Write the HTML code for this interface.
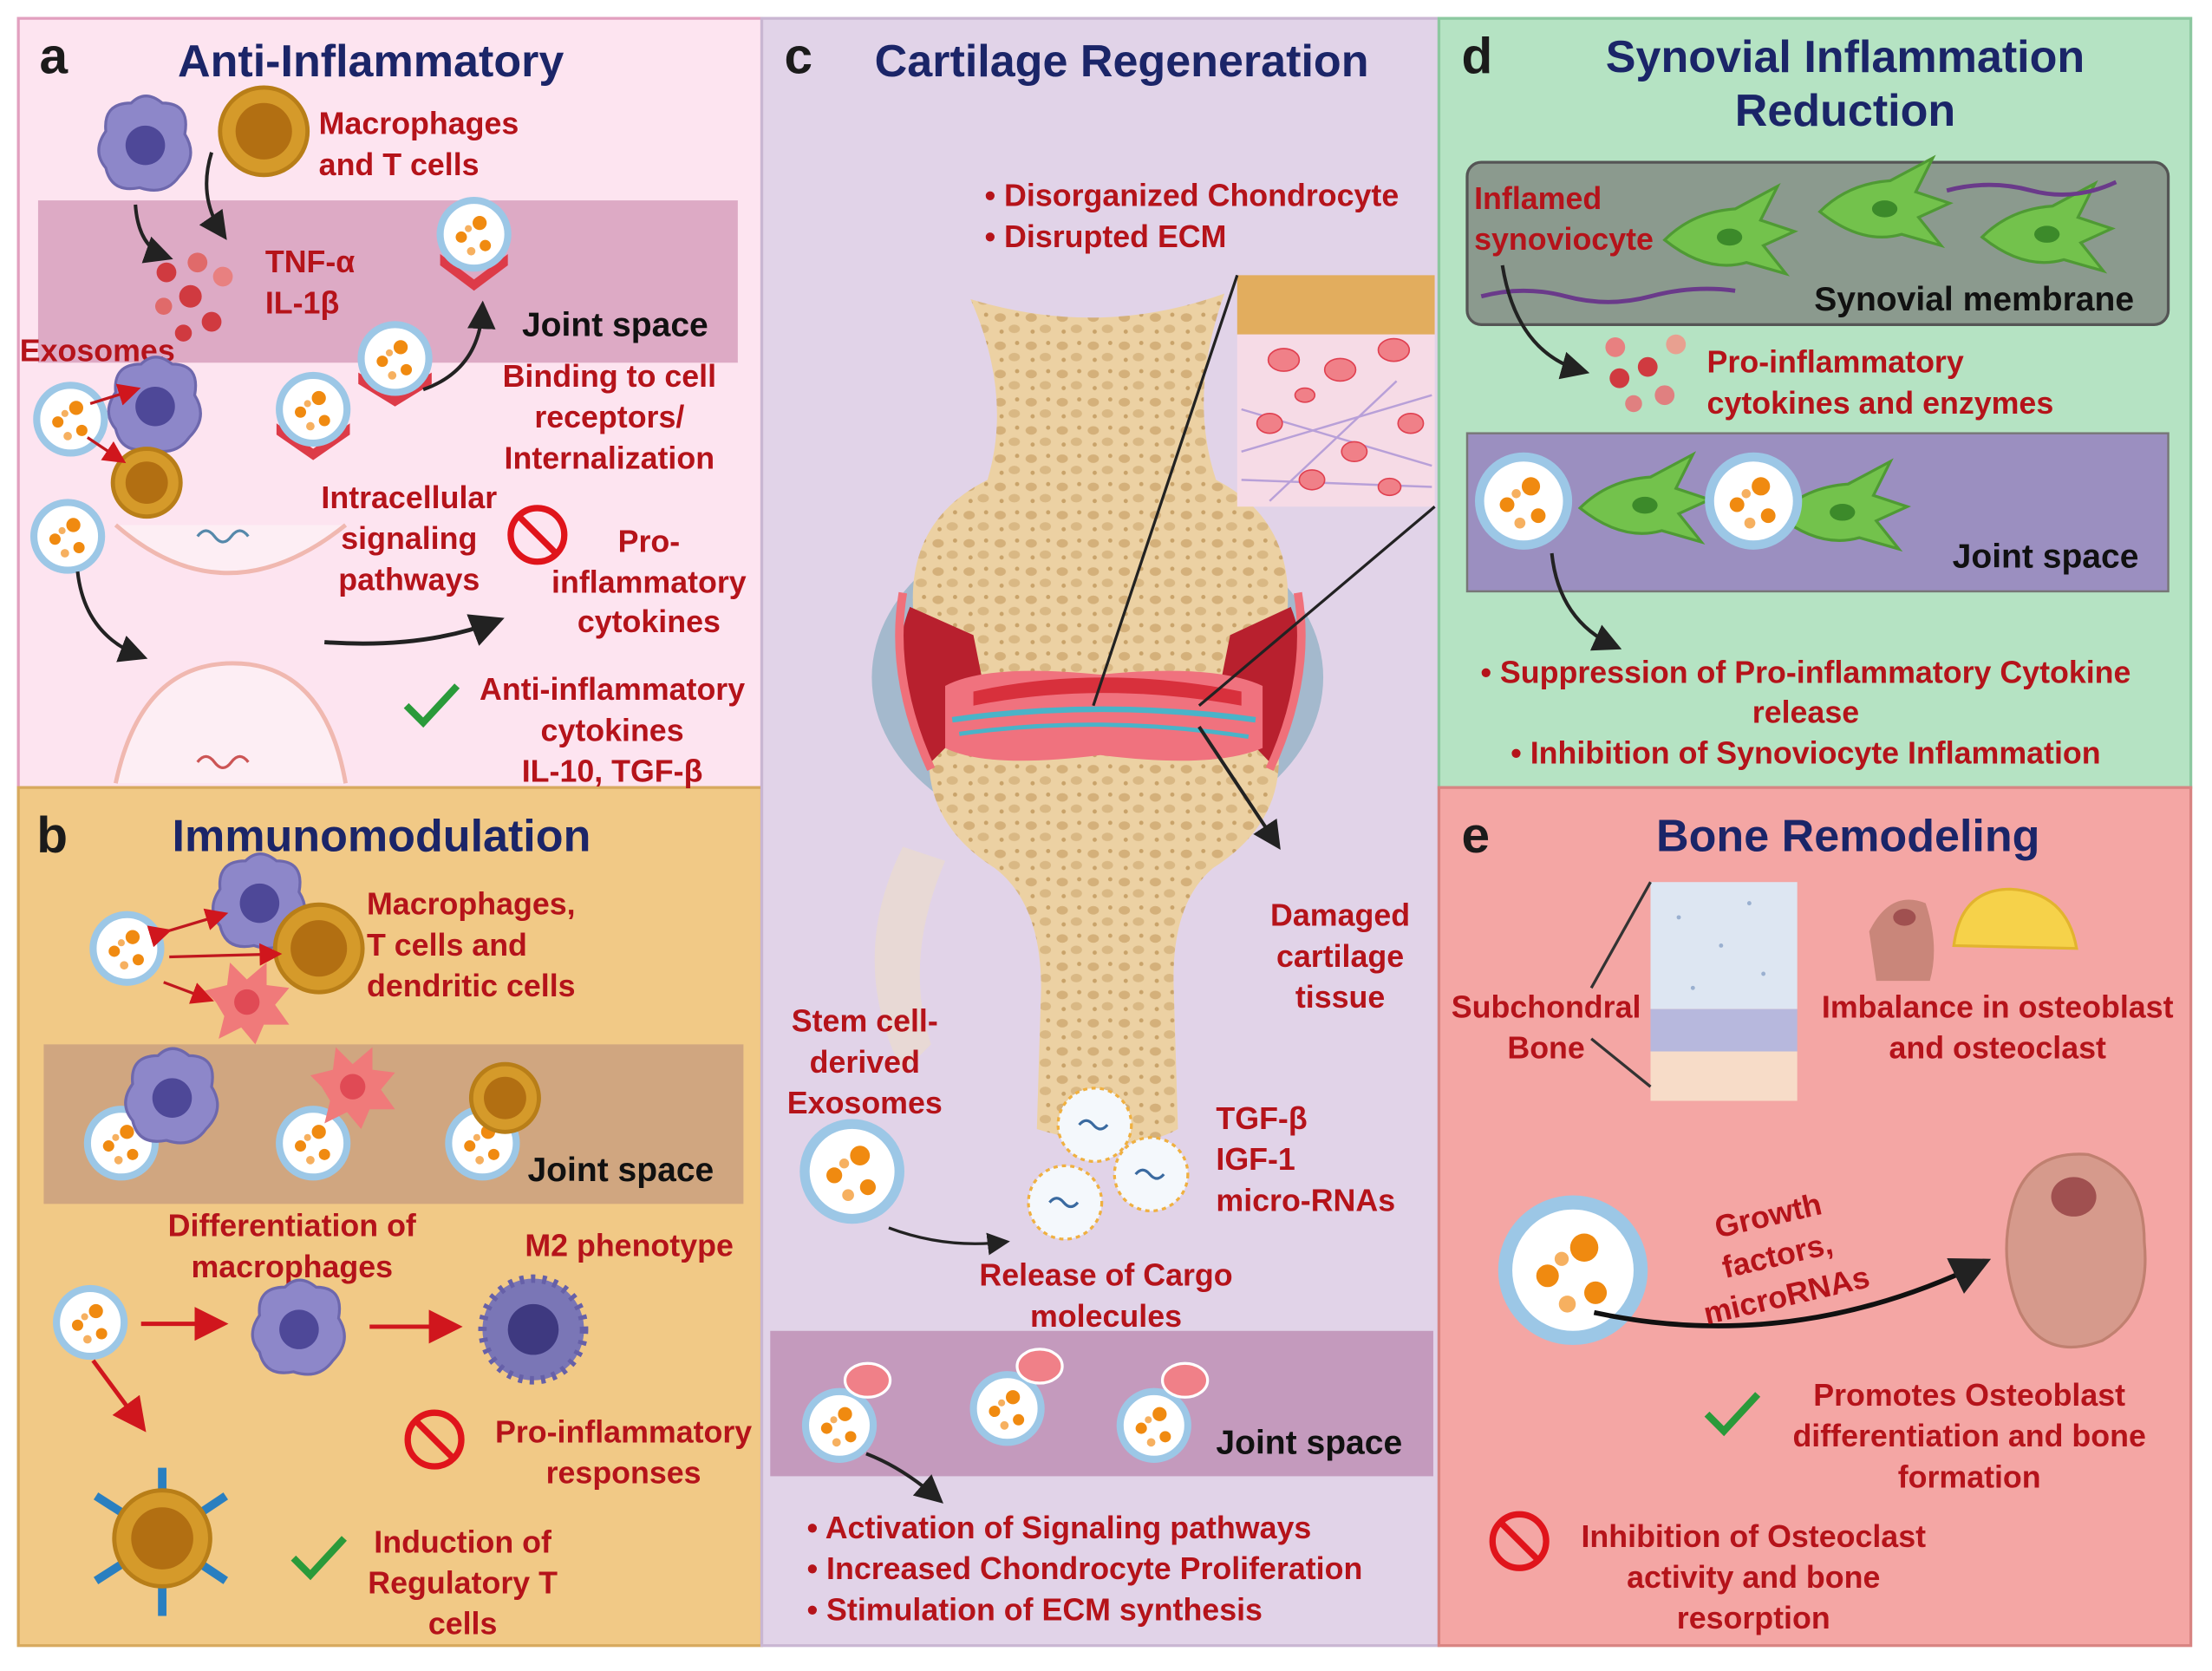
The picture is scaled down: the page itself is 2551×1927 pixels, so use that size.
<!DOCTYPE html>
<html><head><meta charset="utf-8"><style>
html,body{margin:0;padding:0;background:#fff;}
svg{display:block}
text{font-family:"Liberation Sans",sans-serif;font-weight:bold;}
.t{fill:#1b2568;font-size:32px}
.r{fill:#b5131a;font-size:22px}
.k{fill:#111;font-size:24px}
.L{fill:#1b1b1b;font-size:36px}
</style></head><body>
<svg width="2551" height="1927" viewBox="0 0 1568 1184" preserveAspectRatio="none" xmlns="http://www.w3.org/2000/svg">
<defs>
<marker id="ab" markerWidth="8" markerHeight="8" refX="6" refY="4" orient="auto"><path d="M0,0 L8,4 L0,8 z" fill="#222"/></marker>
<marker id="ar" markerWidth="8" markerHeight="8" refX="6" refY="4" orient="auto"><path d="M0,0 L8,4 L0,8 z" fill="#d0161d"/></marker>
<pattern id="bone" width="22" height="20" patternUnits="userSpaceOnUse"><rect width="22" height="20" fill="#ecd1a3"/><ellipse cx="5" cy="5" rx="4" ry="3" fill="#d4b07a"/><ellipse cx="15" cy="13" rx="4" ry="3" fill="#d9b884"/><circle cx="17" cy="3" r="1.5" fill="#c9a36a"/><circle cx="6" cy="15" r="1.5" fill="#c9a36a"/></pattern>
<g id="ex"><circle r="24" fill="#fff" stroke="#9cc7e6" stroke-width="5"/><circle cx="4" cy="-8" r="5" fill="#f08a10"/><circle cx="-9" cy="2" r="4" fill="#f08a10"/><circle cx="8" cy="8" r="4" fill="#f08a10"/><circle cx="-2" cy="12" r="3" fill="#f6b060"/><circle cx="-4" cy="-4" r="2.5" fill="#f6b060"/></g>
<g id="mac"><path d="M-28,-10 Q-30,-30 -10,-30 Q0,-40 12,-30 Q32,-30 28,-8 Q38,8 24,22 Q14,36 -4,30 Q-24,34 -28,16 Q-38,4 -28,-10z" fill="#8d87c9" stroke="#6e68ad" stroke-width="2"/><circle cx="0" cy="0" r="14" fill="#4e4898"/></g>
<g id="tc"><circle r="31" fill="#d59a2a" stroke="#b87e18" stroke-width="3"/><circle r="20" fill="#b26f12"/></g>
<g id="tcs"><circle r="24" fill="#d59a2a" stroke="#b87e18" stroke-width="3"/><circle r="15" fill="#b26f12"/></g>
<g id="dc"><path d="M-22,0 L-30,-8 L-14,-12 L-12,-28 L0,-16 L14,-28 L14,-12 L30,-10 L20,2 L30,16 L12,16 L6,30 L-4,18 L-20,26 L-16,10z" fill="#f07a7a"/><circle r="9" fill="#e04a55"/></g>
<g id="fib"><path d="M-40,0 Q-20,-20 10,-22 L40,-38 L28,-14 L52,-6 L30,4 L46,24 L18,16 Q-10,24 -40,0z" fill="#73c24c" stroke="#4f9a34" stroke-width="2"/><ellipse cx="6" cy="-2" rx="9" ry="6" fill="#3c8a2a"/></g>
<g id="no"><circle r="19" fill="none" stroke="#e0141b" stroke-width="4.5"/><line x1="-13" y1="-13" x2="13" y2="13" stroke="#e0141b" stroke-width="4.5"/></g>
<g id="ck"><path d="M-18,0 L-6,12 L18,-14" fill="none" stroke="#2a9a3a" stroke-width="5"/></g>
</defs>
<rect width="1568" height="1184" fill="#fff"/>
<rect x="13" y="13" width="527" height="545" fill="#fde4f0" stroke="#e2a0bf" stroke-width="2"/>
<rect x="13" y="558" width="527" height="608" fill="#f1c986" stroke="#d7a95e" stroke-width="2"/>
<rect x="540" y="13" width="480" height="1153" fill="#e1d3e8" stroke="#c9b6d2" stroke-width="2"/>
<rect x="1020" y="13" width="533" height="545" fill="#b5e3c3" stroke="#8cc8a0" stroke-width="2"/>
<rect x="1020" y="558" width="533" height="608" fill="#f4a6a4" stroke="#d88482" stroke-width="2"/>

<!-- panel a -->
<text x="28" y="52" class="L">a</text>
<text x="126" y="54" class="t">Anti-Inflammatory</text>
<rect x="27" y="142" width="496" height="115" fill="#ddaac5"/>
<use href="#mac" x="103" y="103"/>
<use href="#tc" x="187" y="93"/>
<text x="226" y="95" class="r">Macrophages</text><text x="226" y="124" class="r">and T cells</text>
<g fill="#d03a40"><circle cx="118" cy="193" r="7"/><circle cx="140" cy="186" r="7" fill="#e06a6a"/><circle cx="135" cy="210" r="8"/><circle cx="158" cy="196" r="7" fill="#e88080"/><circle cx="150" cy="228" r="7"/><circle cx="116" cy="217" r="6" fill="#e06a6a"/><circle cx="130" cy="236" r="6"/></g>
<path d="M96,145 Q98,175 118,182" stroke="#222" stroke-width="2.5" fill="none" marker-end="url(#ab)"/>
<path d="M150,108 Q140,140 158,166" stroke="#222" stroke-width="2.5" fill="none" marker-end="url(#ab)"/>
<text x="188" y="193" class="r">TNF-α</text><text x="188" y="222" class="r">IL-1β</text>
<path d="M312,180 L336,198 L360,180 L360,188 L336,206 L312,188z" fill="#dd3b48"/><use href="#ex" x="336" y="166"/>
<text x="370" y="238" class="k">Joint space</text>
<text x="14" y="256" class="r">Exosomes</text>
<use href="#mac" x="110" y="288"/>
<use href="#ex" x="50" y="297"/>
<use href="#tcs" x="104" y="342"/>
<path d="M64,286 L96,276" stroke="#c0171e" stroke-width="2" marker-end="url(#ar)"/>
<path d="M62,310 L86,326" stroke="#c0171e" stroke-width="2" marker-end="url(#ar)"/>
<path d="M196,300 L222,318 L248,300 L248,308 L222,326 L196,308z" fill="#dd3b48"/><use href="#ex" x="222" y="290"/>
<path d="M254,264 L280,280 L306,264 L306,272 L280,288 L254,272z" fill="#dd3b48"/><use href="#ex" x="280" y="254"/>
<path d="M300,276 Q340,262 342,218" stroke="#222" stroke-width="2.5" fill="none" marker-end="url(#ab)"/>
<text x="432" y="274" class="r" text-anchor="middle">Binding to cell</text>
<text x="432" y="303" class="r" text-anchor="middle">receptors/</text>
<text x="432" y="332" class="r" text-anchor="middle">Internalization</text>
<use href="#ex" x="48" y="380"/>
<path d="M82,372 Q160,440 245,372" fill="#fdeef4" stroke="#f0b8b0" stroke-width="3"/>
<path d="M82,555 Q100,470 165,470 Q230,470 245,555" fill="#fdeef4" stroke="#f0b8b0" stroke-width="3"/>
<path d="M140,380 q6,-8 12,0 t12,0 t12,0" stroke="#58a" fill="none" stroke-width="2"/>
<path d="M140,540 q6,-8 12,0 t12,0 t12,0" stroke="#c55" fill="none" stroke-width="2"/>
<path d="M55,405 Q60,450 100,465" stroke="#222" stroke-width="2.5" fill="none" marker-end="url(#ab)"/>
<path d="M230,455 Q300,460 352,440" stroke="#222" stroke-width="3" fill="none" marker-end="url(#ab)"/>
<text x="290" y="360" class="r" text-anchor="middle">Intracellular</text>
<text x="290" y="389" class="r" text-anchor="middle">signaling</text>
<text x="290" y="418" class="r" text-anchor="middle">pathways</text>
<use href="#no" x="381" y="379"/>
<text x="460" y="391" class="r" text-anchor="middle">Pro-</text>
<text x="460" y="420" class="r" text-anchor="middle">inflammatory</text>
<text x="460" y="448" class="r" text-anchor="middle">cytokines</text>
<use href="#ck" x="306" y="500"/>
<text x="434" y="496" class="r" text-anchor="middle">Anti-inflammatory</text>
<text x="434" y="525" class="r" text-anchor="middle">cytokines</text>
<text x="434" y="554" class="r" text-anchor="middle">IL-10, TGF-β</text>

<!-- panel b -->
<text x="26" y="604" class="L">b</text>
<text x="122" y="603" class="t">Immunomodulation</text>
<use href="#ex" x="90" y="672"/>
<use href="#mac" x="184" y="640"/>
<use href="#tc" x="226" y="672"/>
<use href="#dc" x="175" y="710"/>
<path d="M118,660 L158,648" stroke="#c0171e" stroke-width="2" marker-end="url(#ar)" marker-start="url(#ar)"/>
<path d="M120,678 L196,676" stroke="#c0171e" stroke-width="2" marker-end="url(#ar)"/>
<path d="M116,696 L148,708" stroke="#c0171e" stroke-width="2" marker-end="url(#ar)"/>
<text x="260" y="648" class="r">Macrophages,</text><text x="260" y="677" class="r">T cells and</text><text x="260" y="706" class="r">dendritic cells</text>
<rect x="31" y="740" width="496" height="113" fill="#c49a7e" opacity="0.75"/>
<use href="#ex" x="86" y="810"/><use href="#mac" x="122" y="778"/>
<use href="#ex" x="222" y="810"/><use href="#dc" x="250" y="770"/>
<use href="#ex" x="342" y="810"/><use href="#tcs" x="358" y="778"/>
<text x="374" y="837" class="k">Joint space</text>
<text x="207" y="876" class="r" text-anchor="middle">Differentiation of</text>
<text x="207" y="905" class="r" text-anchor="middle">macrophages</text>
<text x="446" y="890" class="r" text-anchor="middle">M2 phenotype</text>
<use href="#ex" x="64" y="937"/>
<path d="M100,938 L156,938" stroke="#d0161d" stroke-width="3" marker-end="url(#ar)"/>
<use href="#mac" x="212" y="942"/>
<path d="M262,940 L322,940" stroke="#d0161d" stroke-width="3" marker-end="url(#ar)"/>
<circle cx="378" cy="942" r="36" fill="#7a76b6" stroke="#6660a8" stroke-width="6" stroke-dasharray="3 5"/><circle cx="378" cy="942" r="18" fill="#3e3980"/>
<path d="M66,964 L100,1010" stroke="#d0161d" stroke-width="3" marker-end="url(#ar)"/>
<use href="#no" x="308" y="1020"/>
<text x="442" y="1022" class="r" text-anchor="middle">Pro-inflammatory</text>
<text x="442" y="1051" class="r" text-anchor="middle">responses</text>
<g stroke="#2a7fc0" stroke-width="6"><line x1="115" y1="1090" x2="68" y2="1060"/><line x1="115" y1="1090" x2="160" y2="1060"/><line x1="115" y1="1090" x2="68" y2="1120"/><line x1="115" y1="1090" x2="160" y2="1120"/><line x1="115" y1="1090" x2="115" y2="1040"/><line x1="115" y1="1090" x2="115" y2="1145"/></g>
<circle cx="115" cy="1090" r="34" fill="#d59a2a" stroke="#b87e18" stroke-width="3"/><circle cx="115" cy="1090" r="22" fill="#b26f12"/>
<use href="#ck" x="226" y="1104"/>
<text x="328" y="1100" class="r" text-anchor="middle">Induction of</text>
<text x="328" y="1129" class="r" text-anchor="middle">Regulatory T</text>
<text x="328" y="1158" class="r" text-anchor="middle">cells</text>

<!-- panel c -->
<text x="556" y="52" class="L">c</text>
<text x="620" y="54" class="t">Cartilage Regeneration</text>
<text x="698" y="146" class="r">• Disorganized Chondrocyte</text>
<text x="698" y="175" class="r">• Disrupted ECM</text>
<!-- joint -->
<path d="M640,600 Q600,680 640,760 L660,740 Q640,680 670,610z" fill="#eadbd0" opacity="0.8"/>
<ellipse cx="778" cy="480" rx="160" ry="118" fill="#a4b9cd"/>
<ellipse cx="778" cy="480" rx="140" ry="98" fill="#c8d4e0"/>
<path d="M688,212 Q780,240 868,208 Q842,280 862,340 Q920,370 912,440 Q905,480 870,490 L690,490 Q650,480 648,440 Q640,370 700,340 Q718,280 688,212z" fill="url(#bone)"/>
<path d="M660,520 Q680,500 780,505 Q880,500 905,520 Q915,580 860,615 Q830,640 832,700 L835,800 Q800,820 735,800 L738,700 Q738,640 705,615 Q650,580 660,520z" fill="url(#bone)"/>
<path d="M645,430 Q625,480 660,540 L700,500 L690,450z" fill="#b8202e"/><path d="M915,430 Q935,480 900,540 L862,500 L872,450z" fill="#b8202e"/>
<path d="M640,420 Q630,480 660,545" stroke="#f0707a" stroke-width="6" fill="none"/><path d="M920,420 Q930,480 900,545" stroke="#f0707a" stroke-width="6" fill="none"/>
<path d="M670,486 Q700,470 780,478 Q860,470 895,486 L895,530 Q860,545 780,535 Q700,545 670,530z" fill="#f0727e"/>
<path d="M690,490 Q780,470 880,490 L880,500 Q780,482 690,500z" fill="#d8303c"/>
<path d="M675,510 Q780,495 890,510" stroke="#4ab3c8" stroke-width="4" fill="none"/><path d="M680,520 Q780,506 885,522" stroke="#4ab3c8" stroke-width="3" fill="none"/>
<rect x="877" y="195" width="140" height="42" fill="#e2ad5e"/><rect x="877" y="237" width="140" height="122" fill="#f6dbe6"/>
<g stroke="#b8a0d8" stroke-width="1.5"><line x1="880" y1="290" x2="1015" y2="330"/><line x1="880" y1="320" x2="1015" y2="280"/><line x1="900" y1="355" x2="990" y2="270"/><line x1="880" y1="340" x2="1015" y2="345"/></g>
<g fill="#f08088" stroke="#e04050"><ellipse cx="910" cy="255" rx="11" ry="8"/><ellipse cx="950" cy="262" rx="11" ry="8"/><ellipse cx="988" cy="248" rx="11" ry="8"/><ellipse cx="900" cy="300" rx="9" ry="7"/><ellipse cx="960" cy="320" rx="9" ry="7"/><ellipse cx="1000" cy="300" rx="9" ry="7"/><ellipse cx="930" cy="340" rx="9" ry="7"/><ellipse cx="985" cy="345" rx="8" ry="6"/><ellipse cx="925" cy="280" rx="7" ry="5"/></g>
<line x1="877" y1="195" x2="775" y2="500" stroke="#222" stroke-width="2"/><line x1="1017" y1="359" x2="850" y2="500" stroke="#222" stroke-width="2"/>
<path d="M850,515 L905,598" stroke="#222" stroke-width="2.5" marker-end="url(#ab)"/>
<text x="950" y="656" class="r" text-anchor="middle">Damaged</text><text x="950" y="685" class="r" text-anchor="middle">cartilage</text><text x="950" y="714" class="r" text-anchor="middle">tissue</text>
<text x="613" y="731" class="r" text-anchor="middle">Stem cell-</text><text x="613" y="760" class="r" text-anchor="middle">derived</text><text x="613" y="789" class="r" text-anchor="middle">Exosomes</text>
<g transform="translate(604,830) scale(1.4)"><use href="#ex"/></g>
<path d="M630,870 Q670,885 712,880" stroke="#222" stroke-width="2" fill="none" marker-end="url(#ab)"/>
<g fill="#f4f8fc" stroke="#f0b040" stroke-width="2" stroke-dasharray="3 3"><circle cx="776" cy="797" r="26"/><circle cx="816" cy="832" r="26"/><circle cx="755" cy="852" r="26"/></g>
<g stroke="#3a6aa0" stroke-width="2" fill="none"><path d="M765,797 q5,-6 10,0 t10,0"/><path d="M805,832 q5,-6 10,0 t10,0"/><path d="M744,852 q5,-6 10,0 t10,0"/></g>
<text x="862" y="800" class="r">TGF-β</text><text x="862" y="829" class="r">IGF-1</text><text x="862" y="858" class="r">micro-RNAs</text>
<text x="784" y="911" class="r" text-anchor="middle">Release of Cargo</text><text x="784" y="940" class="r" text-anchor="middle">molecules</text>
<rect x="546" y="943" width="470" height="103" fill="#c49abd"/>
<use href="#ex" x="595" y="1010"/><ellipse cx="615" cy="978" rx="16" ry="12" fill="#f08088" stroke="#fff" stroke-width="2"/>
<use href="#ex" x="714" y="998"/><ellipse cx="737" cy="968" rx="16" ry="12" fill="#f08088" stroke="#fff" stroke-width="2"/>
<use href="#ex" x="818" y="1010"/><ellipse cx="840" cy="978" rx="16" ry="12" fill="#f08088" stroke="#fff" stroke-width="2"/>
<text x="862" y="1030" class="k">Joint space</text>
<path d="M614,1030 Q640,1040 665,1062" stroke="#222" stroke-width="2.5" fill="none" marker-end="url(#ab)"/>
<text x="572" y="1090" class="r">• Activation of Signaling pathways</text>
<text x="572" y="1119" class="r">• Increased Chondrocyte Proliferation</text>
<text x="572" y="1148" class="r">• Stimulation of ECM synthesis</text>

<!-- panel d -->
<text x="1036" y="52" class="L">d</text>
<text x="1308" y="51" class="t" text-anchor="middle">Synovial Inflammation</text>
<text x="1308" y="89" class="t" text-anchor="middle">Reduction</text>
<rect x="1040" y="115" width="497" height="115" rx="10" fill="#8b9a8e" stroke="#555" stroke-width="2"/>
<use href="#fib" x="1220" y="170"/><use href="#fib" x="1330" y="150"/><use href="#fib" x="1445" y="168"/>
<path d="M1050,210 q30,-8 60,0 t60,0 t60,-4" stroke="#6a3a8a" stroke-width="3" fill="none"/>
<path d="M1380,135 q30,-8 60,0 t60,-6" stroke="#6a3a8a" stroke-width="3" fill="none"/>
<text x="1045" y="148" class="r">Inflamed</text><text x="1045" y="177" class="r">synoviocyte</text>
<text x="1286" y="220" class="k">Synovial membrane</text>
<path d="M1065,188 Q1075,250 1122,263" stroke="#222" stroke-width="2.5" fill="none" marker-end="url(#ab)"/>
<g fill="#d03a40"><circle cx="1145" cy="246" r="7" fill="#e88080"/><circle cx="1168" cy="260" r="7"/><circle cx="1148" cy="268" r="7"/><circle cx="1188" cy="244" r="7" fill="#e8a090"/><circle cx="1180" cy="280" r="7" fill="#e08080"/><circle cx="1158" cy="286" r="6" fill="#e08080"/></g>
<text x="1210" y="264" class="r">Pro-inflammatory</text><text x="1210" y="293" class="r">cytokines and enzymes</text>
<rect x="1040" y="307" width="497" height="112" fill="#9b8fc0" stroke="#777" stroke-width="1.5"/>
<use href="#fib" x="1160" y="360"/><g transform="translate(1080,355) scale(1.3)"><use href="#ex"/></g>
<use href="#fib" x="1300" y="365"/><g transform="translate(1243,355) scale(1.3)"><use href="#ex"/></g>
<text x="1384" y="402" class="k">Joint space</text>
<path d="M1100,392 Q1105,440 1145,458" stroke="#222" stroke-width="2.5" fill="none" marker-end="url(#ab)"/>
<text x="1280" y="484" class="r" text-anchor="middle">• Suppression of Pro-inflammatory Cytokine</text>
<text x="1280" y="512" class="r" text-anchor="middle">release</text>
<text x="1280" y="541" class="r" text-anchor="middle">• Inhibition of Synoviocyte Inflammation</text>

<!-- panel e -->
<text x="1036" y="604" class="L">e</text>
<text x="1310" y="603" class="t" text-anchor="middle">Bone Remodeling</text>
<rect x="1170" y="625" width="104" height="90" fill="#dde6f2"/><rect x="1170" y="715" width="104" height="30" fill="#b7b8dd"/><rect x="1170" y="745" width="104" height="35" fill="#f7dcc8"/>
<g fill="#9ab0d0"><circle cx="1190" cy="650" r="1.5"/><circle cx="1220" cy="670" r="1.5"/><circle cx="1250" cy="690" r="1.5"/><circle cx="1200" cy="700" r="1.5"/><circle cx="1240" cy="640" r="1.5"/></g>
<line x1="1170" y1="625" x2="1128" y2="700" stroke="#333" stroke-width="2"/><line x1="1170" y1="770" x2="1128" y2="736" stroke="#333" stroke-width="2"/>
<text x="1096" y="721" class="r" text-anchor="middle">Subchondral</text><text x="1096" y="750" class="r" text-anchor="middle">Bone</text>
<path d="M1325,660 Q1340,630 1365,640 Q1375,670 1368,695 L1330,695z" fill="#c9867a"/><ellipse cx="1350" cy="650" rx="8" ry="6" fill="#a05050"/>
<path d="M1385,670 Q1390,630 1425,630 Q1465,632 1472,672z" fill="#f6d24a" stroke="#e2b42e" stroke-width="2"/>
<text x="1416" y="721" class="r" text-anchor="middle">Imbalance in osteoblast</text><text x="1416" y="750" class="r" text-anchor="middle">and osteoclast</text>
<g transform="translate(1115,900) scale(2)"><use href="#ex"/></g>
<path d="M1130,930 Q1270,960 1405,895" stroke="#111" stroke-width="3.5" fill="none" marker-end="url(#ab)"/>
<g transform="rotate(-13 1260 890)"><text x="1260" y="868" class="r" text-anchor="middle">Growth</text><text x="1260" y="897" class="r" text-anchor="middle">factors,</text><text x="1260" y="926" class="r" text-anchor="middle">microRNAs</text></g>
<path d="M1428,850 Q1440,815 1480,818 Q1520,830 1520,880 Q1525,930 1490,950 Q1450,965 1432,930 Q1415,890 1428,850z" fill="#d69a8c" stroke="#c08070" stroke-width="2"/><ellipse cx="1470" cy="848" rx="16" ry="14" fill="#a05050"/>
<use href="#ck" x="1228" y="1002"/>
<text x="1396" y="996" class="r" text-anchor="middle">Promotes Osteoblast</text><text x="1396" y="1025" class="r" text-anchor="middle">differentiation and bone</text><text x="1396" y="1054" class="r" text-anchor="middle">formation</text>
<use href="#no" x="1077" y="1092"/>
<text x="1243" y="1096" class="r" text-anchor="middle">Inhibition of Osteoclast</text><text x="1243" y="1125" class="r" text-anchor="middle">activity and bone</text><text x="1243" y="1154" class="r" text-anchor="middle">resorption</text>
</svg>
</body></html>
